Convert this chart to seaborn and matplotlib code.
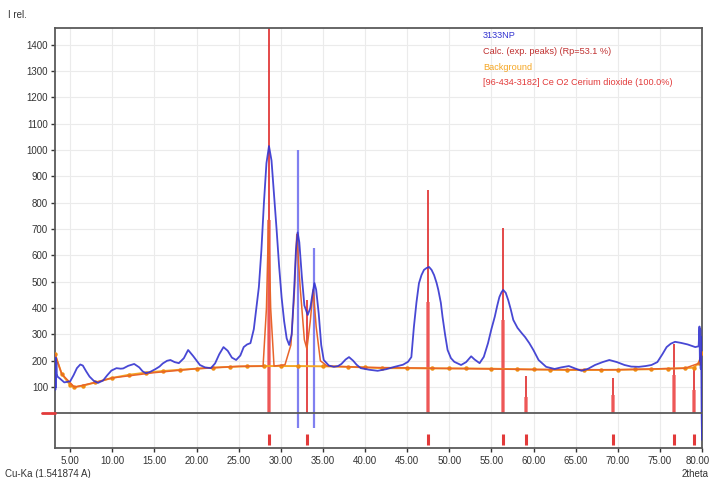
import numpy as np
import pandas as pd
import matplotlib
matplotlib.use("Agg")
import matplotlib.pyplot as plt
import matplotlib.transforms as mtransforms
import seaborn as sns

# ---------------- data ----------------
# measured pattern (3133NP)
obs_x = [3.20, 3.24, 3.28, 3.32, 3.36, 3.40, 3.50, 3.8, 4.3, 5.0, 5.4, 5.8, 6.2, 6.5, 6.9,
         7.3, 7.8, 8.3, 8.9, 9.4, 9.9, 10.5, 11.0, 11.3, 11.9, 12.6, 13.2, 13.6, 14.0, 14.5,
         15.1, 15.6, 16.0, 16.5, 16.9, 17.4, 17.9, 18.5, 19.0, 19.6, 20.4, 21.0, 21.7, 22.2,
         22.7, 23.2, 23.7, 24.2, 24.7, 25.2, 25.6, 26.0, 26.4, 26.8, 27.1, 27.4, 27.7, 28.0,
         28.3, 28.6, 28.9, 29.2, 29.5, 29.8, 30.1, 30.4, 30.7, 31.0, 31.3, 31.6, 31.8, 32.0,
         32.2, 32.5, 32.8, 33.2, 33.5, 33.8, 34.0, 34.2, 34.5, 34.8, 35.1, 35.7, 36.3, 36.8,
         37.2, 37.7, 38.1, 38.6, 39.0, 39.5, 40.5, 41.5, 42.5, 43.5, 44.5, 45.1, 45.5, 45.8,
         46.1, 46.4, 46.7, 47.0, 47.3, 47.6, 47.9, 48.2, 48.5, 48.7, 49.0, 49.2, 49.5, 49.8,
         50.2, 50.6, 51.4, 52.0, 52.6, 53.0, 53.6, 54.1, 54.6, 55.0, 55.4, 55.7, 55.95, 56.2,
         56.4, 56.7, 57.0, 57.3, 57.6, 58.1, 58.6, 59.0, 59.5, 60.0, 60.6, 61.5, 62.5, 63.3,
         64.2, 65.0, 65.7, 66.5, 67.3, 68.2, 69.0, 69.9, 70.8, 71.6, 72.5, 73.3, 74.0, 74.7,
         75.3, 75.8, 76.3, 76.8, 77.5, 78.3, 79.2, 79.6, 79.70, 79.75, 79.80, 79.85, 79.90,
         79.95, 80.0]
obs_y = [200, 90, 212, 100, 195, 150, 140, 132, 118, 122, 145, 172, 186, 182, 160,
         140, 124, 116, 125, 145, 163, 172, 170, 171, 181, 188, 175, 160, 153, 158,
         168, 178, 190, 200, 203, 195, 191, 210, 241, 218, 184, 175, 172, 190,
         225, 252, 238, 212, 203, 220, 252, 262, 267, 320, 400, 480, 620, 800,
         950, 1015, 960, 830, 700, 560, 440, 350, 285, 260, 300, 480, 620, 687,
         650, 520, 410, 374, 400, 460, 495, 470, 380, 260, 203, 182, 177, 180,
         188, 205, 214, 200, 185, 172, 166, 162, 168, 177, 185, 196, 214, 328,
         420, 494, 525, 545, 552, 556, 545, 525, 495, 469, 420, 367, 300, 241,
         210, 196, 184, 195, 217, 205, 191, 215, 267, 320, 367, 410, 442, 460,
         469, 458, 430, 395, 355, 325, 305, 290, 267, 240, 203, 177, 169, 175,
         180, 170, 162, 170, 184, 195, 203, 195, 184, 178, 177, 180, 184, 195,
         225, 252, 265, 272, 268, 262, 252, 255, 330, 200, 320, 170, 290,
         20, -100]

# calculated profile (exp. peaks)
calc_x = [3.2, 4.0, 5.5, 8.0, 10, 15, 20, 25, 27.9, 28.3, 28.55, 28.8, 29.2, 30.5, 31.2,
          31.6, 31.9, 32.3, 32.8, 33.1, 33.5, 33.85, 34.2, 34.7, 35.5, 40, 50, 60, 70, 78, 79.6, 80]
calc_y = [225, 150, 100, 118, 135, 155, 170, 179, 180, 400, 735, 400, 180, 185, 260,
          450, 680, 480, 280, 245, 350, 470, 330, 200, 180, 175, 171, 167, 166, 172, 190, 230]

# background
bg_x = [3.2, 4.0, 5.0, 5.5, 6.5, 8, 10, 12, 14, 16, 18, 20, 22, 24, 26, 28, 30, 32, 35, 38,
        40, 42, 45, 48, 50, 52, 55, 58, 60, 62, 64, 66, 68, 70, 72, 74, 76, 78, 79, 79.6, 80.0]
bg_y = [225, 150, 108, 100, 105, 118, 135, 147, 155, 161, 166, 170, 174, 177, 179, 180, 180,
        180, 179, 177, 175, 172, 172, 171, 171, 171, 170, 168, 167, 166, 165, 165, 165, 166,
        167, 168, 170, 172, 174, 190, 230]

# reference pattern [96-434-3182] Ce O2
ref_pos = [28.55, 33.08, 47.48, 56.33, 59.08, 69.40, 76.70, 79.07]
ref_int = [1700, 430, 848, 703, 142, 135, 262, 177]
exp_int = [735, 0, 423, 355, 62, 70, 146, 89]

# marked peaks of the measured pattern
mark_pos = [32.0, 34.0]
mark_int = [1000, 628]

y_ticks = [100, 200, 300, 400, 500, 600, 700, 800, 900, 1000, 1100, 1200, 1300, 1400]
x_ticks = [5, 10, 15, 20, 25, 30, 35, 40, 45, 50, 55, 60, 65, 70, 75, 80]

legend_texts = ["3133NP", "Calc. (exp. peaks) (Rp=53.1 %)", "Background",
                "[96-434-3182] Ce O2 Cerium dioxide (100.0%)"]

# ---------------- style ----------------
sns.set_style("whitegrid", {"grid.color": "#ebebeb", "axes.edgecolor": "#5a5a5a"})
plt.rcParams["font.family"] = ["Liberation Sans", "DejaVu Sans"]

BLUE = "#3434d0"
LBLUE = "#8080f0"
RED = "#e23a3a"
CALC = "#e8642a"
ORANGE = "#f5a623"
DORANGE = "#ee8c10"

fig = plt.figure(figsize=(7.12, 4.78), dpi=100)
ax = fig.add_axes([55 / 712, 1 - 448 / 478, (702 - 55) / 712, (448 - 28) / 478])

# background
sns.lineplot(data=pd.DataFrame({"x": bg_x, "y": bg_y}), x="x", y="y", ax=ax, color=ORANGE,
             lw=1.4, sort=False, estimator=None, marker="o", markersize=3.2,
             markeredgewidth=0, markerfacecolor=DORANGE, zorder=3)

# reference sticks
ax.vlines(ref_pos, 0, ref_int, color=RED, lw=1.3, zorder=2)
ax.vlines(ref_pos, 0, exp_int, color="#f05a5a", lw=2.6, alpha=0.8, zorder=2)
ax.vlines(ref_pos, -120, -78, color=RED, lw=2.2, zorder=2)

# marked peaks
ax.vlines(mark_pos, -55, mark_int, color=LBLUE, lw=1.6, zorder=2)

# calc profile
sns.lineplot(data=pd.DataFrame({"x": calc_x, "y": calc_y}), x="x", y="y", ax=ax, color=CALC,
             lw=1.1, sort=False, estimator=None, zorder=4)

# measured pattern
sns.lineplot(data=pd.DataFrame({"x": obs_x, "y": obs_y}), x="x", y="y", ax=ax, color=BLUE,
             lw=1.3, sort=False, estimator=None, zorder=5, alpha=0.9)

# zero line
ax.axhline(0, color="#5a5a5a", lw=1.3, zorder=6)
ax.plot([-0.02, 0.0], [0, 0], transform=ax.get_yaxis_transform(), color=RED, lw=2,
        clip_on=False, zorder=7)

ax.set_xlim(3.2, 80.0)
ax.set_ylim(-131, 1463)
ax.set_yticks(y_ticks)
ax.set_yticklabels([str(v) for v in y_ticks])
ax.set_xticks(x_ticks)
ax.set_xticklabels([f"{v:.2f}" for v in x_ticks])
ax.tick_params(axis="both", labelsize=7.0, colors="#333333", length=3, width=1,
               direction="out", left=True, bottom=True, pad=2)
ax.tick_params(axis="x", pad=3)
ax.set_xlabel("")
ax.set_ylabel("")
for s in ax.spines.values():
    s.set_linewidth(1.3)
    s.set_color("#5a5a5a")

# keep the last x label inside the figure
last = ax.get_xticklabels()[-1]
last.set_transform(last.get_transform() + mtransforms.ScaledTranslation(-4 / 100, 0, fig.dpi_scale_trans))

fig.text(8 / 712, 1 - 15 / 478, "I rel.", fontsize=7, color="#333333", va="center")
fig.text(5 / 712, 1 - 474 / 478, "Cu-Ka (1.541874 A)", fontsize=7, color="#333333", va="center")
fig.text(709 / 712, 1 - 474 / 478, "2theta", fontsize=7, color="#333333", va="center", ha="right")

leg_colors = [BLUE, "#c03030", ORANGE, RED]
for i, (t, c) in enumerate(zip(legend_texts, leg_colors)):
    fig.text(483 / 712, 1 - (36 + 15.5 * i) / 478, t, fontsize=6.6, color=c, va="center")

fig.savefig("out.png", dpi=100)
